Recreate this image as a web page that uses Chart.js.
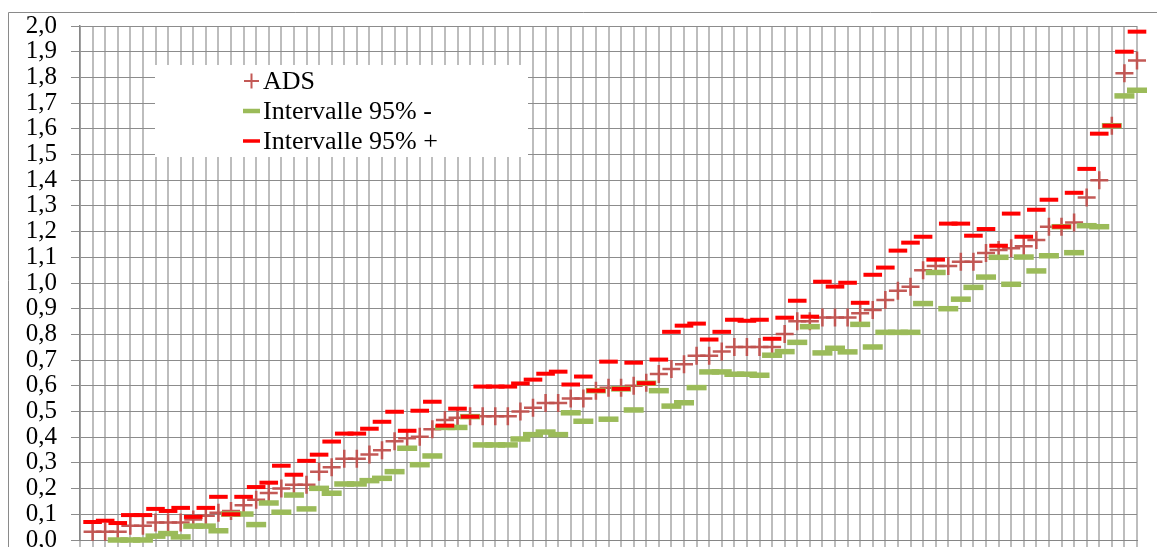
<!DOCTYPE html>
<html>
<head>
<meta charset="utf-8">
<script src="https://cdn.jsdelivr.net/npm/chart.js@4.4.1/dist/chart.umd.min.js"></script>
<style>
html,body{margin:0;padding:0;background:#fff;}
#wrap{width:1157px;height:547px;position:relative;overflow:hidden;}
</style>
</head>
<body>
<div id="wrap"><canvas id="c" width="1157" height="547"></canvas></div>
<script>
const categories = ["", "1","2","3","4","5","6","7","8","9","10","11","12","13","14","15","16","17","18","19","20",
  "21","22","23","24","25","26","27","28","29","30","31","32","33","34","35","36","37","38","39","40",
  "41","42","43","44","45","46","47","48","49","50","51","52","53","54","55","56","57","58","59","60",
  "61","62","63","64","65","66","67","68","69","70","71","72","73","74","75","76","77","78","79","80",
  "81","82","83","84"];

const adsValues = [null,
  0.032,0.032,0.032,0.055,0.055,0.068,0.068,0.068,0.080,0.094,
  0.106,0.113,0.135,0.157,0.183,0.200,0.215,0.215,0.266,0.283,
  0.316,0.316,0.333,0.349,0.384,0.396,0.402,0.431,0.467,0.476,
  0.482,0.482,0.482,0.482,0.500,0.515,0.533,0.533,0.551,0.551,
  0.581,0.592,0.592,0.600,0.612,0.646,0.665,0.684,0.717,0.717,
  0.733,0.751,0.751,0.751,0.751,0.802,0.851,0.851,0.866,0.866,
  0.866,0.882,0.895,0.934,0.970,0.985,1.050,1.066,1.066,1.083,
  1.083,1.117,1.128,1.135,1.143,1.167,1.219,1.219,1.235,1.333,
  1.400,1.612,1.816,1.866];

const lowValues = [null,
  -0.05,-0.05,0.000,0.000,0.000,0.015,0.025,0.012,0.054,0.054,
  0.036,0.101,0.101,0.060,0.144,0.108,0.175,0.121,0.201,0.182,
  0.218,0.218,0.231,0.240,0.266,0.357,0.293,0.327,0.438,0.438,
  0.480,0.370,0.370,0.370,0.393,0.410,0.420,0.410,0.495,0.462,
  0.581,0.470,0.588,0.506,0.610,0.581,0.521,0.534,0.593,0.654,
  0.654,0.645,0.645,0.641,0.719,0.733,0.769,0.830,0.728,0.746,
  0.732,0.839,0.751,0.808,0.808,0.808,0.920,1.041,0.900,0.937,
  0.983,1.023,1.100,0.995,1.101,1.047,1.106,1.219,1.118,1.223,
  1.219,1.612,1.728,1.750];

const highValues = [null,
  0.070,0.075,0.066,0.097,0.097,0.121,0.113,0.125,0.090,0.125,
  0.168,0.100,0.168,0.206,0.223,0.289,0.254,0.308,0.332,0.383,
  0.414,0.414,0.433,0.460,0.499,0.425,0.503,0.538,0.445,0.511,
  0.480,0.597,0.597,0.597,0.609,0.624,0.647,0.655,0.605,0.636,
  0.581,0.694,0.588,0.690,0.610,0.702,0.810,0.834,0.842,0.780,
  0.810,0.857,0.853,0.857,0.783,0.865,0.931,0.869,1.005,0.986,
  1.001,0.923,1.032,1.060,1.126,1.157,1.180,1.091,1.231,1.231,
  1.184,1.210,1.145,1.270,1.180,1.285,1.324,1.219,1.351,1.444,
  1.581,1.612,1.900,1.978];

const yTickLabels = ["0,0","0,1","0,2","0,3","0,4","0,5","0,6","0,7","0,8","0,9","1,0",
  "1,1","1,2","1,3","1,4","1,5","1,6","1,7","1,8","1,9","2,0"];

const seriesNames = ["ADS", "Intervalle 95% -", "Intervalle 95% +"];

const frame = {
  id: 'frame',
  beforeDraw(chart) {
    const ctx = chart.ctx;
    ctx.save();
    ctx.fillStyle = '#fff';
    ctx.fillRect(0, 0, chart.width, chart.height);
    ctx.strokeStyle = '#8a8a8a';
    ctx.lineWidth = 1;
    ctx.beginPath();
    ctx.moveTo(8.5, chart.height + 2);
    ctx.lineTo(8.5, 12.5);
    ctx.lineTo(chart.width + 2, 12.5);
    ctx.stroke();
    ctx.restore();
  }
};

const boxLegend = {
  id: 'boxLegend',
  afterDatasetsDraw(chart) {
    const ctx = chart.ctx;
    ctx.save();
    ctx.fillStyle = '#fff';
    ctx.fillRect(155, 65, 373, 92);
    ctx.font = '26px "Liberation Serif", "Times New Roman", serif';
    ctx.textBaseline = 'middle';
    ctx.textAlign = 'left';
    chart.data.datasets.forEach((ds, i) => {
      const y = 81 + i * 30;
      ctx.strokeStyle = ds.pointBorderColor;
      ctx.fillStyle = ds.pointBorderColor;
      ctx.lineWidth = ds.legendWidth;
      Chart.helpers.drawPoint(ctx, {
        pointStyle: ds.pointStyle, radius: ds.legendRadius, rotation: 0, borderWidth: ds.legendWidth
      }, 251.5, y);
      ctx.fillStyle = '#000';
      ctx.fillText(ds.label, 263, y + 1);
    });
    ctx.restore();
  }
};

new Chart(document.getElementById('c'), {
  type: 'line',
  data: {
    labels: categories,
    datasets: [
      { label: seriesNames[0], data: adsValues, showLine: false, pointStyle: 'cross',
        pointRadius: 9, pointHoverRadius: 9, pointBorderWidth: 2.5, pointBorderColor: 'rgba(192,80,77,0.95)',
        pointBackgroundColor: 'rgba(192,80,77,0.95)', borderColor: 'rgba(192,80,77,0.95)',
        order: 3, legendRadius: 7.5, legendWidth: 2,
        clip: {left: false, right: false, top: false, bottom: 3} },
      { label: seriesNames[1], data: lowValues, showLine: false, pointStyle: 'line',
        pointRadius: 10, pointHoverRadius: 10, pointBorderWidth: 5.5, pointBorderColor: '#9BBB59',
        pointBackgroundColor: '#9BBB59', borderColor: '#9BBB59',
        order: 2, legendRadius: 8.5, legendWidth: 4.5,
        clip: {left: false, right: false, top: false, bottom: 3} },
      { label: seriesNames[2], data: highValues, showLine: false, pointStyle: 'line',
        pointRadius: 9.3, pointHoverRadius: 9.3, pointBorderWidth: 4, pointBorderColor: '#FF0000',
        pointBackgroundColor: '#FF0000', borderColor: '#FF0000',
        order: 1, legendRadius: 8.5, legendWidth: 3.5,
        clip: {left: false, right: false, top: false, bottom: 3} }
    ]
  },
  options: {
    responsive: false,
    animation: false,
    devicePixelRatio: 1,
    events: [],
    layout: { autoPadding: false, padding: { left: 8, top: 26, right: 20, bottom: 0 } },
    plugins: { legend: { display: false }, tooltip: { enabled: false } },
    scales: {
      x: {
        type: 'category',
        offset: false,
        grid: { color: '#bdbdbd', lineWidth: 2, tickLength: 7, drawTicks: true },
        border: { color: '#868686', width: 1 },
        ticks: { display: false, autoSkip: false },
        afterFit(s) { s.paddingLeft = 0; s.paddingRight = 0; }
      },
      y: {
        min: 0, max: 2,
        ticks: {
          stepSize: 0.1,
          autoSkip: false,
          padding: 14,
          color: '#000',
          font: { family: '"Liberation Serif", "Times New Roman", serif', size: 25, lineHeight: 0.5 },
          callback: (v, i) => yTickLabels[i]
        },
        grid: { color: '#8c8c8c', lineWidth: 1, tickLength: 9 },
        border: { color: '#868686', width: 1.5 },
        afterFit(s) { s.width = 72; s.paddingTop = 0; s.paddingBottom = 0; }
      }
    }
  },
  plugins: [frame, boxLegend]
});
</script>
</body>
</html>
